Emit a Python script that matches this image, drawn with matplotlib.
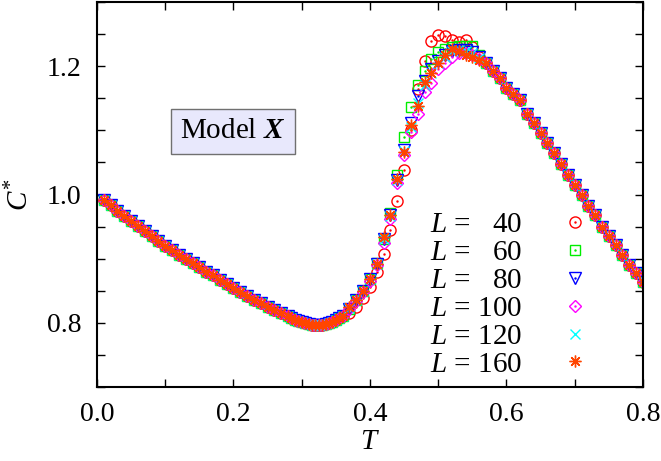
import matplotlib
matplotlib.use("Agg")
import matplotlib.pyplot as plt
from matplotlib.ticker import MultipleLocator

plt.rcParams["font.family"] = "Liberation Serif"
plt.rcParams["mathtext.fontset"] = "custom"
plt.rcParams["mathtext.rm"] = "Liberation Serif"
plt.rcParams["mathtext.it"] = "Liberation Serif:italic"
plt.rcParams["mathtext.bf"] = "Liberation Serif:bold"
plt.rcParams["mathtext.bfit"] = "Liberation Serif:italic:bold"

# low-temperature branch, all sizes collapse on one curve
T_LOW = [0.01, 0.02, 0.03, 0.04, 0.05, 0.06, 0.07, 0.08, 0.09, 0.10,
         0.11, 0.12, 0.13, 0.14, 0.15, 0.16, 0.17, 0.18, 0.19, 0.20,
         0.21, 0.22, 0.23, 0.24, 0.25, 0.26, 0.27, 0.28,
         0.285, 0.29, 0.295, 0.30, 0.305, 0.31, 0.315, 0.32, 0.325,
         0.33, 0.335, 0.34, 0.345, 0.35, 0.355, 0.36]
C_LOW = [0.991, 0.983, 0.974, 0.966, 0.958, 0.951, 0.943, 0.935, 0.928, 0.920,
         0.913, 0.906, 0.900, 0.893, 0.887, 0.880, 0.874, 0.867, 0.861, 0.854,
         0.848, 0.842, 0.836, 0.831, 0.825, 0.820, 0.815, 0.810,
         0.807, 0.805, 0.803, 0.801, 0.799, 0.798, 0.797, 0.797, 0.797,
         0.797, 0.798, 0.799, 0.801, 0.804, 0.807, 0.811]

# transition region, differs with L
T_RISE = [0.37, 0.38, 0.39, 0.40, 0.41, 0.42, 0.43, 0.44, 0.45, 0.46,
          0.47, 0.48, 0.49, 0.50, 0.51, 0.52, 0.53, 0.54, 0.55, 0.56]
C_RISE_40 = [0.815, 0.824, 0.838, 0.856, 0.880, 0.908, 0.945, 0.990, 1.038, 1.100,
             1.164, 1.208, 1.240, 1.248, 1.247, 1.241, 1.238, 1.241, 1.230, 1.215]
C_RISE_60 = [0.822, 0.835, 0.850, 0.868, 0.893, 0.930, 0.972, 1.030, 1.090, 1.136,
             1.170, 1.192, 1.211, 1.222, 1.227, 1.230, 1.231, 1.231, 1.231, 1.218]
C_RISE_80 = [0.822, 0.835, 0.850, 0.868, 0.892, 0.930, 0.968, 1.022, 1.070, 1.112,
             1.153, 1.177, 1.195, 1.208, 1.218, 1.224, 1.226, 1.225, 1.222, 1.214]
C_RISE_100 = [0.822, 0.834, 0.848, 0.866, 0.890, 0.925, 0.962, 1.018, 1.062, 1.098,
              1.125, 1.160, 1.174, 1.195, 1.205, 1.215, 1.220, 1.220, 1.218, 1.212]
C_RISE_120 = [0.823, 0.835, 0.849, 0.868, 0.892, 0.930, 0.966, 1.022, 1.068, 1.105,
              1.142, 1.170, 1.190, 1.205, 1.215, 1.223, 1.225, 1.224, 1.220, 1.213]
C_RISE_160 = [0.824, 0.836, 0.850, 0.869, 0.892, 0.934, 0.968, 1.025, 1.066, 1.108,
              1.138, 1.175, 1.190, 1.205, 1.218, 1.227, 1.223, 1.218, 1.214, 1.210]

# high-temperature tail, again common
T_TAIL = [0.57, 0.58, 0.59, 0.60, 0.61, 0.62, 0.63, 0.64, 0.65, 0.66,
          0.67, 0.68, 0.69, 0.70, 0.71, 0.72, 0.73, 0.74, 0.75, 0.76,
          0.77, 0.78, 0.79, 0.80]
C_TAIL = [1.205, 1.193, 1.182, 1.166, 1.157, 1.147, 1.126, 1.111, 1.096, 1.081,
          1.064, 1.047, 1.030, 1.015, 1.000, 0.982, 0.968, 0.950, 0.935, 0.921,
          0.906, 0.890, 0.878, 0.864]

L_LABELS = ["$L$ =   40", "$L$ =   60", "$L$ =   80",
            "$L$ = 100", "$L$ = 120", "$L$ = 160"]
RISES = [C_RISE_40, C_RISE_60, C_RISE_80, C_RISE_100, C_RISE_120, C_RISE_160]
COLORS = ["#ff0000", "#00ee00", "#0000ff", "#ff00ff", "#00ffff", "#ff4500"]
MARKERS = ["o", "s", "v", "D", "x", (8, 2, 0)]
SIZES = [8.0, 7.5, 8.0, 6.5, 7.5, 8.5]
CENTER_DOT = [True, True, True, True, False, False]


def main():
    fig = plt.figure(figsize=(6.61, 4.61), dpi=100)
    ax = fig.add_axes([0.1467, 0.1605, 0.826, 0.835])

    handles = []
    for rise, col, mk, ms, dot in zip(RISES, COLORS, MARKERS, SIZES, CENTER_DOT):
        t = T_LOW + T_RISE + T_TAIL
        c = C_LOW + rise + C_TAIL
        h, = ax.plot(t, c, linestyle="none", marker=mk, markersize=ms,
                     markerfacecolor="none", markeredgecolor=col, markeredgewidth=1.0)
        if dot:
            d, = ax.plot(t, c, linestyle="none", marker=".", markersize=1.5, color=col)
            handles.append((h, d))
        else:
            handles.append(h)

    ax.set_xlim(0, 0.8)
    ax.set_ylim(0.7, 1.3)
    ax.xaxis.set_major_locator(MultipleLocator(0.2))
    ax.xaxis.set_minor_locator(MultipleLocator(0.1))
    ax.yaxis.set_major_locator(MultipleLocator(0.2))
    ax.yaxis.set_minor_locator(MultipleLocator(0.05))
    ax.xaxis.set_major_formatter(plt.FormatStrFormatter("%.1f"))
    ax.yaxis.set_major_formatter(plt.FormatStrFormatter("%.1f"))
    ax.tick_params(which="both", direction="in", top=True, right=True,
                   length=6, width=1.0, labelsize=20, pad=11)
    for sp in ax.spines.values():
        sp.set_linewidth(1.5)

    ax.set_xlabel(r"$T$", fontsize=21, labelpad=1)
    ax.set_ylabel(r"$C^{*}$", fontsize=21, labelpad=9)

    ax.text(0.199, 1.0985, r"Model $\mathbfit{X}$", fontsize=21, ha="center", va="center",
            bbox=dict(boxstyle="square,pad=0.32", facecolor="#e8e8fc", edgecolor="#707070", linewidth=1.0))

    ax.legend(handles, L_LABELS, loc="upper left", bbox_to_anchor=(0.61, 0.455),
              frameon=False, markerfirst=False, fontsize=21, borderpad=0, borderaxespad=0,
              handlelength=1.0, handletextpad=1.3, labelspacing=0.05)

    fig.savefig("out.png", dpi=100)


if __name__ == "__main__":
    main()
